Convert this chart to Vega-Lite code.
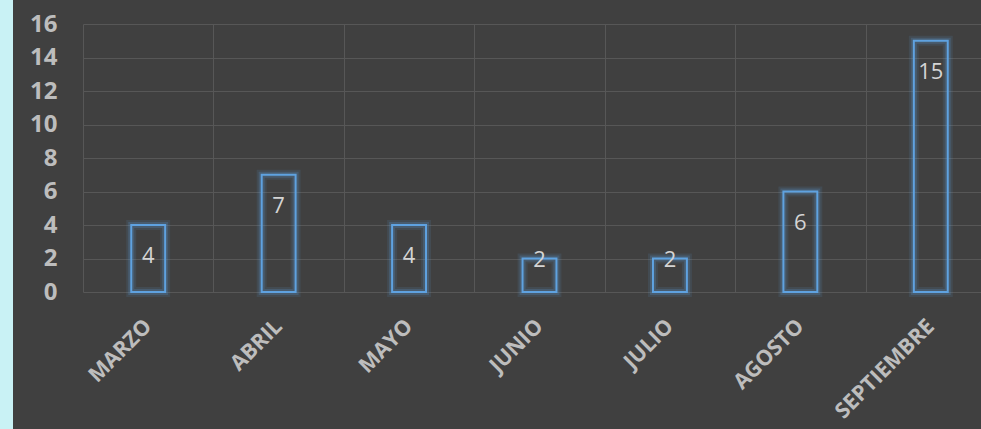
{
  "$schema": "https://vega.github.io/schema/vega-lite/v6.json",
  "width": 983,
  "height": 429,
  "autosize": "none",
  "padding": {"left": 13, "top": 0, "right": 0, "bottom": 0},
  "background": "#c9f2f5",
  "view": {"fill": "#404040", "stroke": null},
  "config": {
    "font": "Open Sans"
  },
  "data": {
    "values": [
      {"mes": "MARZO", "valor": 4},
      {"mes": "ABRIL", "valor": 7},
      {"mes": "MAYO", "valor": 4},
      {"mes": "JUNIO", "valor": 2},
      {"mes": "JULIO", "valor": 2},
      {"mes": "AGOSTO", "valor": 6},
      {"mes": "SEPTIEMBRE", "valor": 15}
    ]
  },
  "encoding": {
    "x": {
      "field": "mes",
      "type": "nominal",
      "sort": null,
      "scale": {"range": [70, 983], "paddingInner": 0, "paddingOuter": 0},
      "axis": {
        "orient": "top",
        "title": null,
        "grid": true,
        "gridColor": "#575757",
        "gridWidth": 1,
        "tickBand": "extent",
        "domain": false,
        "ticks": false,
        "tickSize": 0,
        "labelAngle": -45,
        "labelAlign": "right",
        "labelBaseline": "middle",
        "labelPadding": -323,
        "labelFont": "Open Sans",
        "labelFontSize": 21.5,
        "labelFontWeight": "bold",
        "labelColor": "#bdbdbd",
        "labelOverlap": false
      }
    },
    "y": {
      "field": "valor",
      "type": "quantitative",
      "scale": {"domain": [0, 16], "range": [292, 24], "nice": false, "zero": true},
      "axis": {
        "title": null,
        "grid": true,
        "gridColor": "#575757",
        "gridWidth": 1,
        "values": [0, 2, 4, 6, 8, 10, 12, 14, 16],
        "domain": false,
        "ticks": false,
        "tickSize": 0,
        "labelPadding": -44,
        "labelFont": "Open Sans",
        "labelFontSize": 24,
        "labelFontWeight": "bold",
        "labelColor": "#bdbdbd",
        "labelOverlap": false
      }
    }
  },
  "layer": [
    {
      "mark": {"type": "bar", "width": {"band": 0.26}, "fillOpacity": 0, "stroke": "#5b9bd5", "strokeWidth": 10, "strokeOpacity": 0.12}
    },
    {
      "mark": {"type": "bar", "width": {"band": 0.26}, "fillOpacity": 0, "stroke": "#5b9bd5", "strokeWidth": 6, "strokeOpacity": 0.22}
    },
    {
      "mark": {"type": "bar", "width": {"band": 0.26}, "fillOpacity": 0, "stroke": "#5fa2e0", "strokeWidth": 2, "strokeOpacity": 1}
    },
    {
      "transform": [{"filter": "datum.valor >= 3"}],
      "mark": {"type": "text", "dy": 31, "baseline": "middle", "align": "center", "font": "Open Sans", "fontSize": 22, "color": "#d4d4d4"},
      "encoding": {"text": {"field": "valor", "type": "quantitative"}}
    },
    {
      "transform": [{"filter": "datum.valor < 3"}],
      "mark": {"type": "text", "dy": 1, "baseline": "middle", "align": "center", "font": "Open Sans", "fontSize": 22, "color": "#d4d4d4"},
      "encoding": {"text": {"field": "valor", "type": "quantitative"}}
    }
  ]
}
